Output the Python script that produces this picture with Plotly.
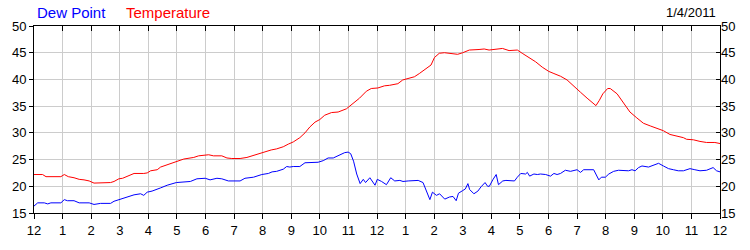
import plotly.graph_objects as go

# ---- data (hours since midnight, values in degrees) ----
temp_hours = [0, 0.3, 0.42, 0.94, 1.06, 1.2, 1.4, 1.58, 1.75, 1.93, 2.1, 2.5, 2.68, 2.8, 2.97, 3.1, 3.26, 3.5,
              3.84, 3.96, 4.08, 4.31, 4.43, 4.66, 4.98, 5.24, 5.59, 5.76, 6.11, 6.28, 6.57, 6.75, 6.92, 7.21,
              7.45, 7.79, 8.03, 8.3, 8.49, 8.72, 8.9, 9.07, 9.3, 9.48, 9.65, 9.83, 10.0, 10.17, 10.41, 10.64,
              10.93, 11.16, 11.39, 11.63, 11.8, 12.03, 12.26, 12.44, 12.73, 12.9, 13.14, 13.31, 13.48, 13.66,
              13.78, 13.89, 14.01, 14.18, 14.36, 14.59, 14.82, 15.0, 15.23, 15.57, 15.75, 15.92, 16.16, 16.39,
              16.62, 16.91, 17.08, 17.32, 17.55, 17.78, 18.01, 18.19, 18.42, 18.65, 18.88, 19.12, 19.35, 19.52,
              19.66, 19.78, 19.9, 20.07, 20.16, 20.4, 20.63, 20.85, 21.09, 21.32, 21.56, 21.79, 22.02, 22.25,
              22.49, 22.72, 22.83, 23.07, 23.3, 23.53, 23.82, 24.0]
temp_values = [22.2, 22.2, 21.8, 21.8, 22.2, 21.8, 21.6, 21.3, 21.2, 21.0, 20.6, 20.6, 20.7, 20.9, 21.4, 21.5, 21.9, 22.4,
               22.4, 22.5, 22.9, 23.1, 23.6, 24.0, 24.6, 25.1, 25.4, 25.7, 25.9, 25.7, 25.7, 25.3, 25.2, 25.2,
               25.4, 26.0, 26.3, 26.8, 27.0, 27.4, 27.9, 28.3, 29.1, 30.0, 31.1, 32.0, 32.5, 33.3, 33.8, 33.9,
               34.5, 35.5, 36.5, 37.8, 38.3, 38.4, 38.8, 38.9, 39.2, 39.9, 40.3, 40.5, 41.1, 41.8,
               42.4, 42.7, 44.1, 44.9, 45.0, 44.8, 44.7, 45.0, 45.5, 45.6, 45.7, 45.5, 45.6, 45.8,
               45.4, 45.5, 44.9, 44.1, 43.3, 42.3, 41.5, 41.1, 40.6, 39.9, 38.7, 37.6, 36.5, 35.8,
               35.1, 36.1, 37.3, 38.3, 38.3, 37.3, 35.5, 33.9, 32.8, 31.8, 31.3, 30.8, 30.4, 29.7,
               29.4, 29.1, 28.8, 28.7, 28.4, 28.2, 28.2, 28.0]

dew_hours = [0, 0.13, 0.36, 0.48, 0.59, 0.94, 1.06, 1.17, 1.4, 1.58, 1.93, 2.1, 2.33, 2.68, 2.8, 3.03, 3.26, 3.5,
             3.73, 3.84, 3.96, 4.13, 4.43, 4.66, 4.98, 5.24, 5.47, 5.7, 5.99, 6.16, 6.4, 6.57, 6.8, 7.21, 7.38,
             7.68, 7.97, 8.2, 8.33, 8.49, 8.72, 8.84, 8.95, 9.07, 9.3, 9.48, 9.71, 9.94, 10.12, 10.29, 10.47,
             10.64, 10.76, 10.87, 10.99, 11.08, 11.18, 11.29, 11.41, 11.52, 11.6, 11.75, 11.93, 12.01, 12.16,
             12.33, 12.48, 12.62, 12.8, 12.91, 13.09, 13.26, 13.44, 13.61, 13.73, 13.85, 13.94, 14.08, 14.19,
             14.37, 14.54, 14.66, 14.77, 14.85, 15.0, 15.09, 15.18, 15.24, 15.39, 15.53, 15.64, 15.78, 15.87,
             15.93, 16.05, 16.17, 16.25, 16.4, 16.51, 16.81, 16.91, 17.03, 17.2, 17.26, 17.34, 17.49, 17.61,
             17.72, 17.9, 18.07, 18.19, 18.3, 18.42, 18.59, 18.77, 19.0, 19.12, 19.23, 19.58, 19.66, 19.76,
             19.85, 19.99, 20.11, 20.28, 20.45, 20.63, 20.8, 20.92, 21.03, 21.15, 21.27, 21.5, 21.67, 21.85,
             22.02, 22.2, 22.37, 22.54, 22.72, 22.95, 23.12, 23.3, 23.53, 23.76, 23.88, 24.0]
dew_values = [16.3, 16.9, 16.9, 16.7, 16.9, 16.9, 17.5, 17.3, 17.3, 16.9, 16.9, 16.6, 16.8, 16.8, 17.2, 17.6, 18.0, 18.4,
              18.6, 18.3, 18.9, 19.1, 19.7, 20.2, 20.7, 20.8, 20.9, 21.4, 21.5, 21.2, 21.5, 21.4, 21.0, 21.0, 21.5,
              21.7, 22.2, 22.4, 22.7, 22.8, 23.2, 23.7, 23.6, 23.7, 23.7, 24.4, 24.5, 24.5, 24.8, 25.3, 25.3,
              25.7, 25.9, 26.3, 26.4, 26.1, 24.7, 22.3, 20.5, 21.3, 20.7, 21.6, 20.2, 21.3, 20.9,
              20.3, 21.6, 21.0, 21.1, 20.9, 21.0, 21.0, 21.1, 20.7, 19.1, 17.5, 18.9, 18.3, 18.6,
              17.6, 18.0, 18.1, 17.3, 18.7, 19.2, 19.5, 20.5, 19.4, 18.6, 19.1, 19.9, 20.7, 20.0,
              20.0, 21.2, 22.2, 20.3, 21.0, 21.1, 21.0, 21.7, 22.4, 22.3, 22.6, 21.9, 22.3, 22.2,
              22.3, 22.2, 21.9, 22.4, 22.2, 22.4, 23.0, 22.8, 23.1, 22.6, 23.1, 23.1, 22.3, 21.2,
              21.7, 21.7, 22.3, 22.8, 23.0, 22.9, 22.9, 23.1, 22.9, 23.5, 23.8, 23.6, 24.0, 24.3,
              23.8, 23.3, 23.1, 22.9, 22.9, 23.3, 23.1, 22.9, 23.0, 23.5, 22.9, 22.7]

tick_hours = list(range(25))
tick_labels = ["12", "1", "2", "3", "4", "5", "6", "7", "8", "9", "10", "11",
               "12", "1", "2", "3", "4", "5", "6", "7", "8", "9", "10", "11", "12"]
y_ticks = [15, 20, 25, 30, 35, 40, 45, 50]

series_names = ["Dew Point", "Temperature"]
date_label = "1/4/2011"

FONT = "Liberation Sans, Arial, sans-serif"

fig = go.Figure()
fig.add_trace(go.Scatter(x=dew_hours, y=dew_values, mode="lines", name=series_names[0],
                         line=dict(color="#0000FF", width=1), xaxis="x", yaxis="y"))
fig.add_trace(go.Scatter(x=temp_hours, y=temp_values, mode="lines", name=series_names[1],
                         line=dict(color="#FF0000", width=1), xaxis="x2", yaxis="y2"))

common_x = dict(range=[0, 24], tickvals=tick_hours, showgrid=True, gridcolor="#CCCCCC", gridwidth=1,
                zeroline=False, tickcolor="black", ticklen=5, tickwidth=1)
common_y = dict(range=[15, 50], tickvals=y_ticks, showgrid=True, gridcolor="#CCCCCC", gridwidth=1,
                zeroline=False, tickcolor="black", ticklen=4, tickwidth=1)

fig.update_layout(
    width=750, height=250,
    margin=dict(l=31, r=30, t=26, b=25),
    paper_bgcolor="white", plot_bgcolor="white",
    showlegend=False,
    font=dict(family=FONT, size=13, color="black"),
    xaxis=dict(**common_x, ticktext=tick_labels, ticks="outside", showline=True,
               linecolor="black", linewidth=1, mirror=True,
               tickfont=dict(family=FONT, size=13, color="black")),
    xaxis2=dict(**common_x, overlaying="x", side="top", ticks="inside", showticklabels=False,
                showline=False),
    yaxis=dict(**common_y, ticks="outside", showline=True, linecolor="black", linewidth=1, mirror=True,
               tickfont=dict(family=FONT, size=13, color="black")),
    yaxis2=dict(**common_y, overlaying="y", side="right", ticks="inside", showline=False,
                anchor="x2", tickfont=dict(family=FONT, size=13, color="black")),
    annotations=[
        dict(text=series_names[0], xref="paper", yref="paper", x=0.002, y=1.07, xanchor="left",
             yanchor="middle", showarrow=False, font=dict(family=FONT, size=15, color="#0000FF")),
        dict(text=series_names[1], xref="paper", yref="paper", x=0.131, y=1.07, xanchor="left",
             yanchor="middle", showarrow=False, font=dict(family=FONT, size=15, color="#FF0000")),
        dict(text=date_label, xref="paper", yref="paper", x=0.997, y=1.07, xanchor="right",
             yanchor="middle", showarrow=False, font=dict(family=FONT, size=13, color="black")),
    ],
)

fig.write_html("out.html")
